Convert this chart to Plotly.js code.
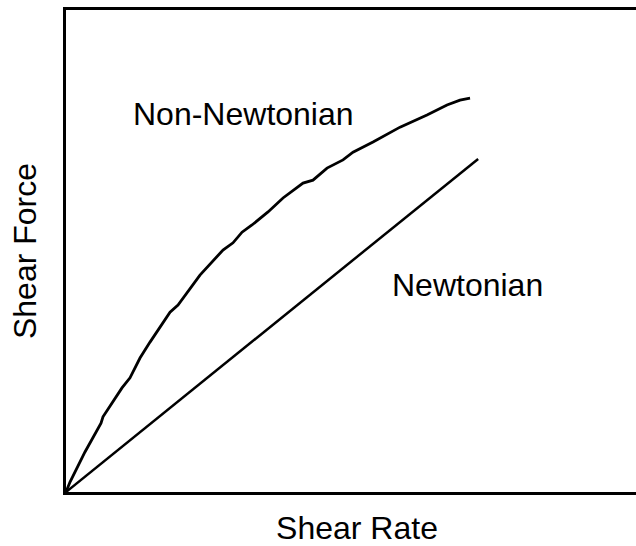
<!DOCTYPE html>
<html>
<head>
<meta charset="utf-8">
<script src="https://cdn.plot.ly/plotly-3.0.1.min.js"></script>
<style>html,body{margin:0;padding:0;background:#fff;overflow:hidden;}#chart{width:648px;height:546px;}</style>
</head>
<body>
<div id="chart"></div>
<script>
// Non-Newtonian curve (shear rate vs shear force, arbitrary units)
var nonNewtonX = [0, 0.7, 3.33, 5.09, 6.14, 6.49, 8.07, 9.82, 11.23, 12.98, 14.74, 16.14, 18.25, 19.65, 21.75, 23.5, 27.54, 29.3, 30.88, 32.63, 35.44, 38.07, 41.58, 43.33, 45.79, 48.6, 50.35, 53.86, 58.6, 63.33, 66.84, 69.12, 70.88];
var nonNewtonY = [0, 2.07, 8.3, 12.24, 14.3, 15.6, 18.5, 21.6, 23.7, 27.8, 31.1, 33.6, 37.3, 38.8, 42.3, 45.0, 50.2, 51.7, 53.9, 55.4, 58.1, 61.0, 64.1, 64.7, 67.2, 68.9, 70.5, 72.6, 75.7, 78.2, 80.3, 81.3, 81.7];
// Newtonian straight line
var newtonX = [0, 72.3];
var newtonY = [0, 69.1];
// Labels
var labelTexts = ["Non-Newtonian", "Newtonian"];
var labelX = [31.1, 70.4];
var labelY = [78.4, 42.9];
var xTitle = "Shear Rate";
var yTitle = "Shear Force";

var font = "Liberation Sans, Arial, Helvetica, sans-serif";
var traces = [
  {x: nonNewtonX, y: nonNewtonY, mode: "lines", line: {color: "#000", width: 2.8}, hoverinfo: "skip"},
  {x: newtonX, y: newtonY, mode: "lines", line: {color: "#000", width: 2.5}, hoverinfo: "skip"}
];
var annotations = labelTexts.map(function (t, i) {
  return {x: labelX[i], y: labelY[i], xref: "x", yref: "y", text: t, showarrow: false,
          font: {family: font, size: 32, color: "#000"}, xanchor: "center", yanchor: "middle"};
});
var layout = {
  width: 648, height: 546,
  margin: {l: 66, r: 0, t: 10, b: 54},
  paper_bgcolor: "#fff", plot_bgcolor: "#fff",
  showlegend: false,
  xaxis: {range: [0, 102.1], showgrid: false, zeroline: false, showticklabels: false, ticks: "",
          showline: true, mirror: true, linecolor: "#000", linewidth: 3, automargin: false,
          title: {text: xTitle, font: {family: font, size: 32, color: "#000"}, standoff: 24}},
  yaxis: {range: [0, 100], showgrid: false, zeroline: false, showticklabels: false, ticks: "",
          showline: true, mirror: false, linecolor: "#000", linewidth: 3, automargin: false,
          title: {text: yTitle, font: {family: font, size: 32, color: "#000"}, standoff: 17}},
  annotations: annotations
};
Plotly.newPlot("chart", traces, layout, {staticPlot: true, displayModeBar: false});
</script>
</body>
</html>
